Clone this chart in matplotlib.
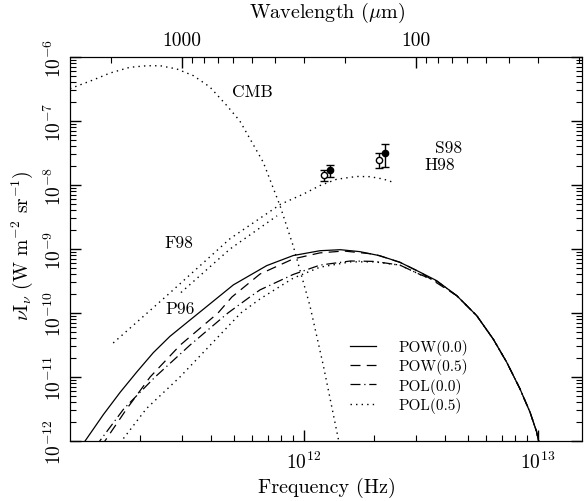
import matplotlib
matplotlib.use("Agg")
import matplotlib.pyplot as plt
import numpy as np
from matplotlib.ticker import FixedLocator, NullFormatter, FuncFormatter, LogLocator

plt.rcParams['font.family'] = ['cmr10', 'DejaVu Serif']
plt.rcParams['mathtext.fontset'] = 'cm'
plt.rcParams['axes.formatter.use_mathtext'] = True
plt.rcParams['font.size'] = 11

# CMB blackbody (dotted)
cmb_nu = [1.00e11, 1.26e11, 1.48e11, 1.80e11, 2.13e11, 2.43e11, 2.86e11, 3.37e11, 3.96e11,
          4.68e11, 5.32e11, 6.70e11, 7.89e11, 8.99e11, 1.06e12, 1.21e12, 1.40e12, 1.46e12]
cmb_val = [3.2e-7, 4.4e-7, 5.6e-7, 6.9e-7, 7.3e-7, 7.3e-7, 6.5e-7, 5.1e-7, 3.4e-7,
           1.74e-7, 1.0e-7, 2.26e-8, 4.8e-9, 1.12e-9, 1.3e-10, 1.5e-11, 1.1e-12, 5e-13]

# F98 and P96 (dotted)
f98_nu = [1.53e11, 2.59e11, 4.83e11, 7.94e11, 9.93e11, 1.17e12, 1.38e12, 1.68e12, 1.91e12, 2.18e12, 2.41e12]
f98_val = [3.4e-11, 1.86e-10, 1.45e-9, 5.0e-9, 7.2e-9, 9.8e-9, 1.23e-8, 1.36e-8, 1.35e-8, 1.24e-8, 1.10e-8]
p96_nu = [2.98e11, 4.83e11, 7.67e11]
p96_val = [2.09e-10, 1.0e-9, 3.3e-9]

# DIRBE points
h98_nu = [1.22e12, 2.09e12]
h98_val = [1.43e-8, 2.48e-8]
h98_err = [0.27e-8, 0.66e-8]
s98_nu = [1.29e12, 2.22e12]
s98_val = [1.71e-8, 3.16e-8]
s98_err = [0.38e-8, 1.27e-8]

# model spectra
pow0_nu = [1.12e11, 1.16e11, 1.39e11, 1.64e11, 1.93e11, 2.27e11, 2.67e11, 3.16e11, 3.72e11, 4.99e11,
           6.93e11, 8.99e11, 1.17e12, 1.43e12, 1.73e12, 2.11e12, 2.57e12, 3.13e12, 3.69e12, 4.50e12,
           5.47e12, 6.44e12, 7.35e12, 8.38e12, 9.25e12, 9.86e12, 1.02e13]
pow0_val = [8.3e-13, 1.0e-12, 2.6e-12, 5.8e-12, 1.2e-11, 2.4e-11, 4.3e-11, 7.1e-11, 1.15e-10, 2.75e-10,
            5.5e-10, 7.9e-10, 9.4e-10, 9.75e-10, 9.1e-10, 7.85e-10, 6.2e-10, 4.35e-10, 3.2e-10, 1.86e-10,
            9.1e-11, 3.9e-11, 1.7e-11, 6.5e-12, 2.8e-12, 1.4e-12, 8e-13]
pow5_nu = [1.35e11, 1.41e11, 1.75e11, 2.20e11, 2.96e11, 4.29e11, 4.92e11, 6.49e11, 8.99e11, 1.17e12,
           1.48e12, 2.0e12, 2.57e12, 3.13e12]
pow5_val = [8.3e-13, 1.0e-12, 3.2e-12, 1.0e-11, 3.16e-11, 1.0e-10, 1.78e-10, 4.07e-10, 7.0e-10, 8.7e-10,
            9.3e-10, 8.3e-10, 6.2e-10, 4.35e-10]
pol0_nu = [1.29e11, 1.34e11, 1.70e11, 2.31e11, 3.26e11, 4.73e11, 5.87e11, 6.49e11, 8.99e11, 1.17e12,
           1.58e12, 2.0e12, 2.57e12, 3.13e12, 3.69e12]
pol0_val = [8e-13, 1.0e-12, 3.2e-12, 1.0e-11, 3.16e-11, 1.0e-10, 1.78e-10, 2.3e-10, 4.0e-10, 5.6e-10,
            6.5e-10, 6.4e-10, 5.6e-10, 4.0e-10, 3.15e-10]
pol5_nu = [1.58e11, 1.66e11, 2.12e11, 2.95e11, 3.98e11, 5.37e11, 6.49e11, 8.99e11, 1.17e12, 1.58e12,
           2.0e12, 2.57e12, 3.13e12, 3.69e12]
pol5_val = [8e-13, 1.0e-12, 3.2e-12, 1.0e-11, 3.16e-11, 1.0e-10, 1.66e-10, 3.5e-10, 5.2e-10, 6.3e-10,
            6.3e-10, 5.6e-10, 4.0e-10, 3.15e-10]

# tail shared by all models above ~3.7e12 Hz
tail_nu = pow0_nu[-9:]
tail_val = pow0_val[-9:]

y_ticks = [1e-12, 1e-11, 1e-10, 1e-9, 1e-8, 1e-7, 1e-6]
x_ticks = [1e12, 1e13]
lam_major = [1000, 100]
lam_minor = [2000, 900, 800, 700, 600, 500, 400, 300, 200, 90, 80, 70, 60, 50, 40, 30, 20]

fig = plt.figure(figsize=(5.85, 5.02), dpi=100)
ax = fig.add_axes([70 / 585, 1 - 442 / 502, 512 / 585, 384 / 502])

dot = (0, (1, 3))
ax.plot(cmb_nu, cmb_val, color='k', lw=1, ls=dot)
ax.plot(f98_nu, f98_val, color='k', lw=1, ls=dot)
ax.plot(p96_nu, p96_val, color='k', lw=1, ls=dot)

lw = 0.9
ax.plot(pow0_nu, pow0_val, color='k', lw=lw, ls='-', label='POW(0.0)')
ax.plot(pow5_nu + tail_nu[1:], pow5_val + tail_val[1:], color='k', lw=lw, ls=(0, (8, 5)), label='POW(0.5)')
ax.plot(pol0_nu + tail_nu[1:], pol0_val + tail_val[1:], color='k', lw=lw, ls=(0, (8, 3, 1, 3)), label='POL(0.0)')
ax.plot(pol5_nu + tail_nu[1:], pol5_val + tail_val[1:], color='k', lw=1, ls=dot, label='POL(0.5)')

ax.errorbar(h98_nu, h98_val, yerr=h98_err, fmt='o', mfc='white', mec='k', ms=4.5, mew=1,
            ecolor='k', elinewidth=1, capsize=3)
ax.errorbar(s98_nu, s98_val, yerr=s98_err, fmt='o', mfc='k', mec='k', ms=4.5, mew=1,
            ecolor='k', elinewidth=1, capsize=3)

ax.set_xscale('log')
ax.set_yscale('log')
xmax = 10 ** (12 + 278 / 234)
ax.set_xlim(1e11, xmax)
ax.set_ylim(1e-12, 1e-6)

ax.tick_params(which='both', direction='in', right=True, top=False, labelsize=14)
ax.tick_params(which='major', length=8, width=1)
ax.tick_params(which='minor', length=4, width=0.8)
ax.tick_params(axis='x', which='major', pad=7)
ax.xaxis.set_major_locator(FixedLocator(x_ticks))
ax.yaxis.set_major_locator(FixedLocator(y_ticks))
ax.yaxis.set_minor_locator(LogLocator(base=10, subs=np.arange(2, 10), numticks=10))
ax.xaxis.set_minor_locator(LogLocator(base=10, subs=np.arange(2, 10), numticks=10))
ax.xaxis.set_minor_formatter(NullFormatter())
ax.yaxis.set_minor_formatter(NullFormatter())
for lab in ax.get_yticklabels():
    lab.set_rotation(90)
    lab.set_va('center')

# wavelength axis on top
c_um = 2.998e14
ax2 = ax.twiny()
ax2.set_xscale('log')
ax2.set_xlim(c_um / 1e11, c_um / xmax)
ax2.xaxis.set_major_locator(FixedLocator(lam_major))
ax2.xaxis.set_minor_locator(FixedLocator(lam_minor))
ax2.xaxis.set_major_formatter(FuncFormatter(lambda v, p: '%d' % v))
ax2.xaxis.set_minor_formatter(NullFormatter())
ax2.tick_params(which='both', direction='in', labelsize=14, pad=6)
ax2.tick_params(which='major', length=8, width=1)
ax2.tick_params(which='minor', length=4, width=0.8)


def pix(x, y):
    return x / 585, 1 - y / 502


fig.text(*pix(327, 13), r'Wavelength ($\mu$m)', fontsize=14.5, ha='center', va='center')
fig.text(*pix(327, 488), 'Frequency (Hz)', fontsize=14.5, ha='center', va='center')
fig.text(*pix(22, 246), r'$\nu$I$_\nu$ (W m$^{-2}$ sr$^{-1}$)', fontsize=14, rotation=90,
         ha='center', va='center')

for s, (px, py) in [('CMB', (252, 92)), ('F98', (179, 243)), ('P96', (180, 309)),
                    ('S98', (449, 148)), ('H98', (440, 165))]:
    fig.text(*pix(px, py), s, fontsize=12.5, ha='center', va='center')

leg = ax.legend(loc='upper left', bbox_to_anchor=pix(350, 340), bbox_transform=fig.transFigure,
                frameon=False, fontsize=11, borderpad=0, borderaxespad=0,
                handlelength=1.7, handletextpad=1.5, labelspacing=0.22)

fig.savefig('out.png', dpi=100)
